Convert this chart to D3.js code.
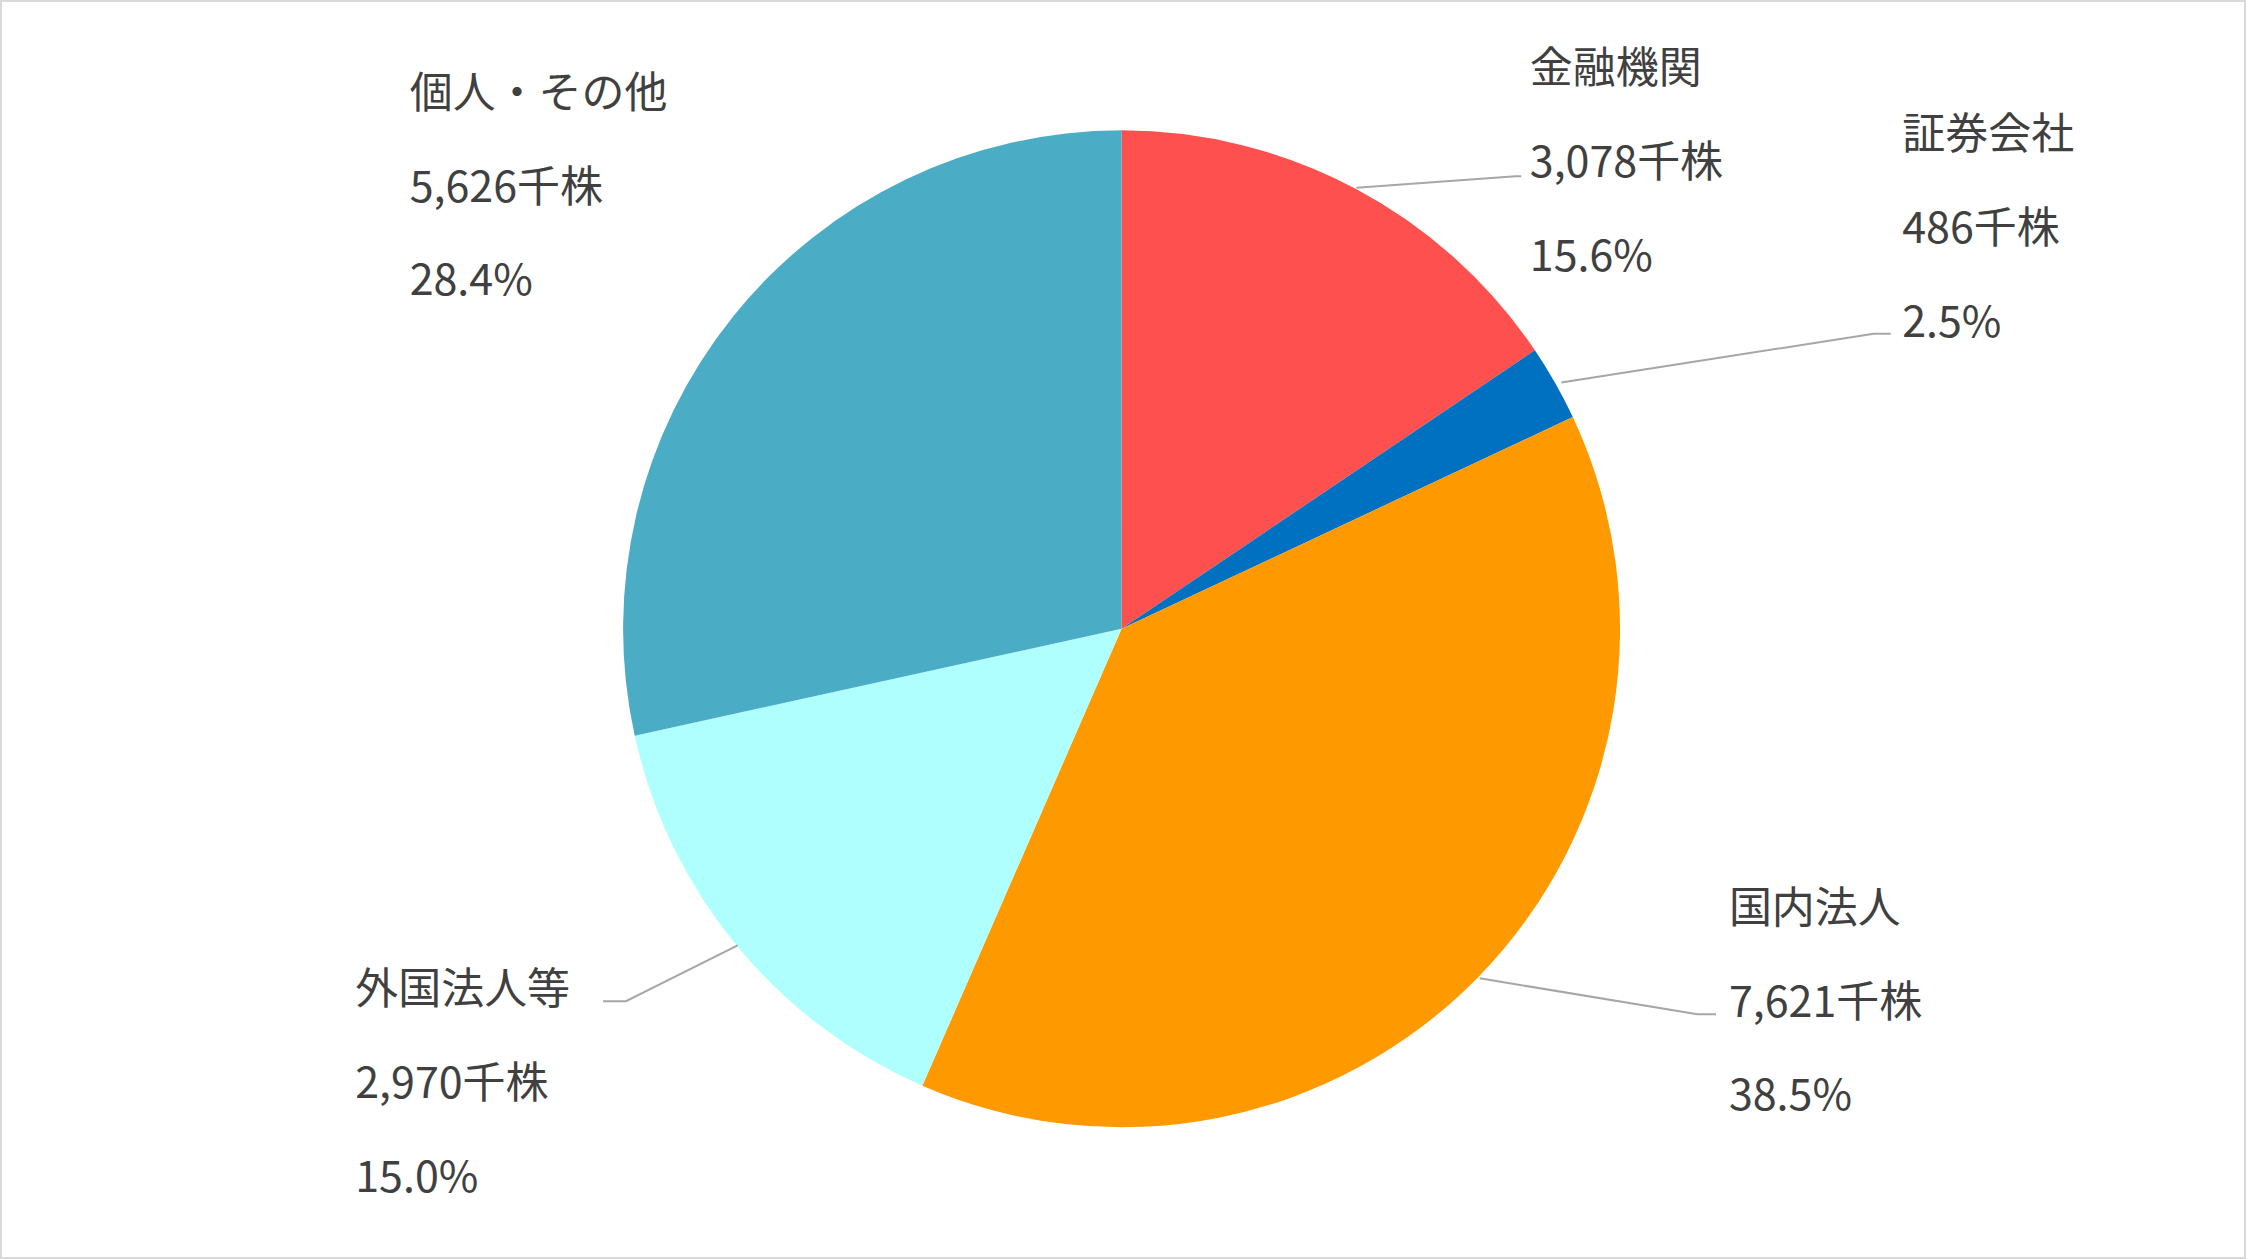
<!DOCTYPE html>
<html><head><meta charset="utf-8">
<script src="https://cdn.jsdelivr.net/npm/d3@7"></script>
<style>body{margin:0;background:#fff}</style>
</head><body>
<script>
// data
const categories = ["金融機関", "証券会社", "国内法人", "外国法人等", "個人・その他"];
const shares = [3078, 486, 7621, 2970, 5626];
const shareLabels = ["3,078千株", "486千株", "7,621千株", "2,970千株", "5,626千株"];
const pctLabels = ["15.6%", "2.5%", "38.5%", "15.0%", "28.4%"];
const colors = ["#FF5050", "#0070C0", "#FF9900", "#AFFFFF", "#4BACC6"];

const W = 2246, H = 1259, s = W / 1568;
const svg = d3.select("body").append("svg").attr("width", W).attr("height", H);
svg.append("rect").attr("x", 1).attr("y", 1).attr("width", W - 2).attr("height", H - 2)
  .attr("fill", "#fff").attr("stroke", "#d9d9d9").attr("stroke-width", 2);

const cx = 783 * s, cy = 439 * s, r = 348 * s;
const pie = d3.pie().sort(null).value(d => d);
const arc = d3.arc().innerRadius(0).outerRadius(r);
const g = svg.append("g").attr("transform", `translate(${cx},${cy})`);
g.selectAll("path").data(pie(shares)).enter().append("path")
  .attr("d", arc).attr("fill", (d, i) => colors[i]);

// label layout (reference-pixel coords)
const labelPos = [[1068, 45], [1328, 91], [1207, 631], [248, 688], [286, 62]];
const leaders = [
  [[947, 131], [1058, 123], [1062, 123]],
  [[1090, 267], [1308, 233], [1320, 233]],
  [[1033, 683], [1185, 708], [1198, 708]],
  [[515, 660], [437, 699], [421, 699]],
  null
];
const line = d3.line().x(p => p[0] * s).y(p => p[1] * s);
leaders.forEach(l => {
  if (l) svg.append("path").attr("d", line(l)).attr("fill", "none")
    .attr("stroke", "#a6a6a6").attr("stroke-width", 2);
});
categories.forEach((c, i) => {
  const [x, y] = labelPos[i];
  [c, shareLabels[i], pctLabels[i]].forEach((t, k) => {
    svg.append("text").attr("x", x * s).attr("y", (y + k * 65.5) * s)
      .attr("dominant-baseline", "central")
      .attr("font-family", "'Noto Sans CJK JP', 'DejaVu Sans', sans-serif")
      .attr("font-size", 30 * s).attr("fill", "#404040").text(t);
  });
});
</script>
</body></html>
